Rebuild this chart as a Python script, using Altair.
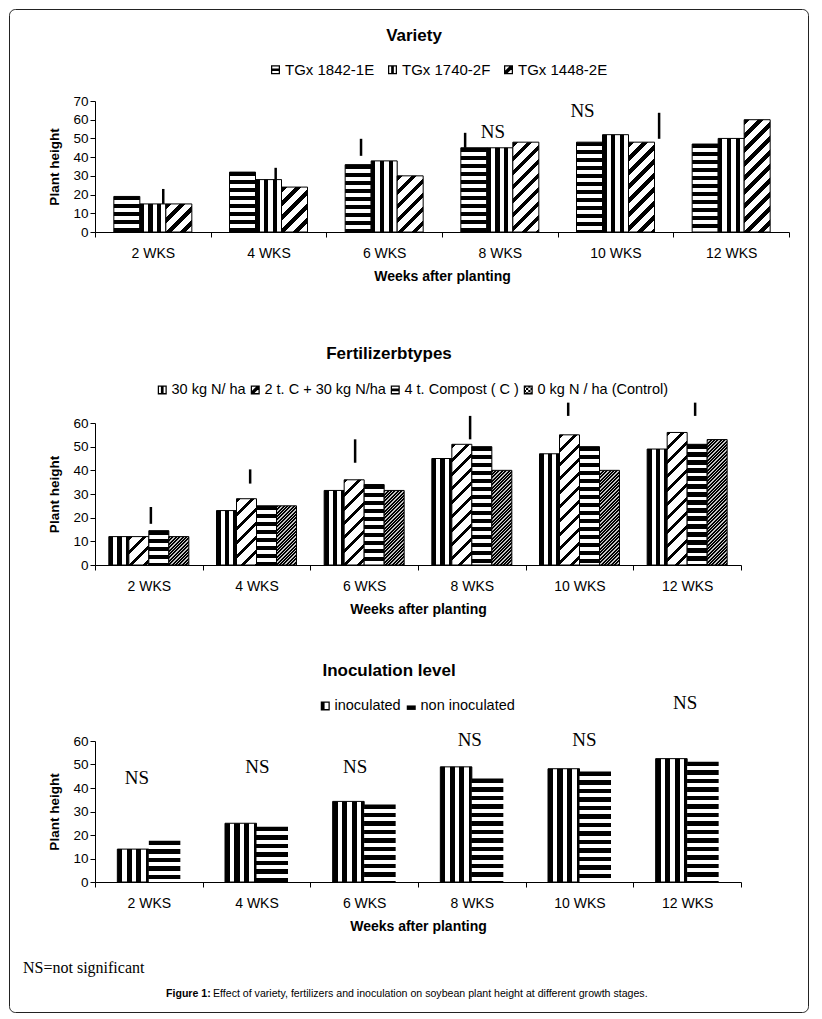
import altair as alt
import pandas as pd

# ---------------- data ----------------
weeks = ["2 WKS", "4 WKS", "6 WKS", "8 WKS", "10 WKS", "12 WKS"]

# Panel 1: Variety
variety = ["TGx 1842-1E", "TGx 1740-2F", "TGx 1448-2E"]
v_1842 = [19, 32, 36, 45, 48, 47]
v_1740 = [15, 28, 38, 45, 52, 50]
v_1448 = [15, 24, 30, 48, 48, 60]
var_lsd_week = ["2 WKS", "4 WKS", "6 WKS", "8 WKS", "10 WKS"]
var_lsd_low = [15, 28, 40.7, 45, 49.8]
var_lsd_high = [23, 34.3, 49.8, 53, 63.7]
var_lsd_shift = [0.09, 0.062, -0.2, -0.3, 0.377]   # fraction of a category step
var_ns_week = ["8 WKS", "10 WKS"]
var_ns_y = [53.7, 64.8]
var_ns_shift = [-0.06, -0.285]

# Panel 2: Fertilizer types
fert = ["30 kg N/ ha", "2 t. C + 30 kg N/ha", "4 t. Compost ( C )", "0 kg N / ha (Control)"]
f_30n = [12, 23, 31.5, 45, 47, 49]
f_2c30n = [12, 28, 36, 51, 55, 56]
f_4c = [14.5, 25, 34, 50, 50, 51]
f_ctrl = [12, 25, 31.5, 40, 40, 53]
fert_lsd_week = weeks
fert_lsd_low = [17.4, 34.4, 43.2, 53.1, 63, 63]
fert_lsd_high = [24.5, 40.4, 53.1, 63, 68.6, 68.6]
fert_lsd_shift = [0.019, -0.059, -0.084, -0.016, -0.105, 0.074]

# Panel 3: Inoculation level
inoc = ["inoculated", "non inoculated"]
i_in = [14, 25, 34.3, 49, 48.2, 52.5]
i_non = [17.6, 23.5, 33, 44, 47, 51.2]
ino_ns_week = weeks
ino_ns_y = [44.2, 48.9, 48.9, 60.3, 60.3, 76.2]
ino_ns_shift = [-0.111, 0.009, -0.083, -0.019, 0.046, -0.019]

FONT = "Liberation Sans"
SERIF = "Liberation Serif"


def long_df(series, columns):
    rows = []
    for name, vals in zip(series, columns):
        for w, v in zip(weeks, vals):
            rows.append({"cat": w, "s": name, "v": v})
    return pd.DataFrame(rows)


def stripe_expr(p, bar_w, pxu):
    a, b, period, dark = p["a"], p["b"], p["period"], p["dark"]
    cd, cl, L = p.get("cd", "black"), p.get("cl", "white"), p.get("L", 220)
    stops = []
    k = 0
    while k * period < L:
        o0 = k * period / L
        o1 = min(1.0, (k * period + dark) / L)
        o2 = min(1.0, (k + 1) * period / L)
        stops += [(o0, cd), (o1, cd), (o1, cl), (o2, cl)]
        k += 1
    st = ",".join("{offset:%.5f,color:'%s'}" % (o, c) for o, c in stops)
    pa = a * bar_w / L
    q = f"({b}*datum.v*{pxu:.6f}/{L})"
    den = f"({pa:.6f}*{pa:.6f}+{q}*{q})"
    x2 = f"{pa:.6f}/{den}"
    y2 = f"{q}/{den}"
    return "{gradient:'linear',x1:0,y1:0,x2:" + x2 + ",y2:" + y2 + ",stops:[" + st + "]}"


def text_layer(txt, x, y, **kw):
    return alt.Chart(pd.DataFrame({"t": [txt]})).mark_text(**kw).encode(
        x=alt.value(x), y=alt.value(y), text="t:N")


FR = "M-1,-1H1V-0.72H-1Z M-1,0.72H1V1H-1Z M-1,-1H-0.72V1H-1Z M0.72,-1H1V1H0.72Z "
SYM_H = FR + "M-1,-0.3H1V0.3H-1Z"
SYM_V = FR + "M-0.3,-1H0.3V1H-0.3Z"
SYM_D = FR + "M-1,0.45L0.45,-1H1V-0.45L-0.45,1H-1Z"
SYM_DOT = " ".join(
    f"M{-1 + 0.5 * i},{-1 + 0.5 * j}h0.5v0.5h-0.5Z"
    for i in range(4) for j in range(4) if (i + j) % 2 == 0) + " " + FR
SYM_INO = FR + "M-1,-1H-0.15V1H-1Z"
SYM_NON = "M-1,-0.1H1V0.9H-1Z"


def panel(series, cols, ymax, plot_h, top_extra, width, bar_w, patterns, shapes,
          legend_kw, title, title_xy, lsd=None, ns=None, extra=()):
    df = long_df(series, cols)
    step = width / 6
    po = (step / bar_w - len(series)) / 2
    height = plot_h + top_extra
    pxu = plot_h / ymax
    if top_extra:
        yscale = alt.Scale(domain=[0, ymax], nice=False, range=[height, top_extra])
    else:
        yscale = alt.Scale(domain=[0, ymax], nice=False)
    xscale = alt.Scale(domain=weeks, paddingInner=0, paddingOuter=0)
    x_axis = alt.Axis(
        title="Weeks after planting", labelAngle=0, tickBand="extent", tickSize=5,
        labelPadding=9, titlePadding=9, labelFontSize=14, titleFontSize=14,
        titleFontWeight="bold")
    y_axis = alt.Axis(
        title="Plant height", values=list(range(0, ymax + 1, 10)),
        tickCount=ymax // 10 + 1, tickSize=5,
        labelPadding=2, labelFontSize=13.5, titleFontSize=13.5, titleFontWeight="bold",
        titlePadding=11, labelOverlap=False)
    X = alt.X("cat:N", sort=weeks, scale=xscale, axis=x_axis)
    XO = alt.XOffset("s:N", sort=series,
                     scale=alt.Scale(domain=series, paddingInner=0, paddingOuter=po))
    Y = alt.Y("v:Q", scale=yscale, axis=y_axis)

    layers = []
    for name in series:
        for p in patterns[name]:
            layers.append(
                alt.Chart(df).transform_filter(alt.datum.s == name)
                .transform_calculate(grad=stripe_expr(p, bar_w, pxu))
                .mark_bar(stroke="black", strokeWidth=p.get("sw", 1))
                .encode(x=X, xOffset=XO, y=Y, fill=alt.Fill("grad:N", scale=None)))

    # invisible points that carry the pattern legend
    layers.append(
        alt.Chart(df).mark_point(filled=True, color="black", opacity=0).encode(
            x=X, y=Y,
            shape=alt.Shape("s:N", sort=series,
                            scale=alt.Scale(domain=series, range=shapes),
                            legend=alt.Legend(title=None, orient="none",
                                              direction="horizontal",
                                              labelFont=FONT, labelColor="black",
                                              symbolSize=81, symbolStrokeWidth=0,
                                              symbolFillColor="black",
                                              labelOffset=2, **legend_kw))))

    if lsd is not None:
        wk, lo, hi, sh = lsd
        ldf = pd.DataFrame({"cat": wk, "lo": lo, "hi": hi, "sh": sh})
        layers.append(
            alt.Chart(ldf).transform_calculate(px=f"datum.sh*{step:.4f}")
            .mark_rule(color="black", strokeWidth=2.5, strokeCap="butt",
                       xOffset=alt.ExprRef(expr="datum.px"))
            .encode(x=X, y=alt.Y("lo:Q", scale=yscale, axis=y_axis), y2="hi:Q"))
    if ns is not None:
        wk, yy, sh = ns
        ndf = pd.DataFrame({"cat": wk, "y": yy, "sh": sh})
        layers.append(
            alt.Chart(ndf).transform_calculate(px=f"datum.sh*{step:.4f}")
            .mark_text(font=SERIF, fontSize=19, color="black", baseline="middle",
                       xOffset=alt.ExprRef(expr="datum.px"))
            .encode(x=X, y=alt.Y("y:Q", scale=yscale, axis=y_axis),
                    text=alt.value("NS")))

    layers.append(text_layer(title, title_xy[0], title_xy[1], font=FONT, fontSize=17,
                             fontWeight="bold", color="black", baseline="middle",
                             align="center"))
    layers.extend(extra)
    return alt.layer(*layers).properties(width=width, height=height)


P1 = {
    "TGx 1842-1E": [dict(a=0, b=1, period=8, dark=4)],
    "TGx 1740-2F": [dict(a=1, b=0, period=26 / 3, dark=4.3)],
    "TGx 1448-2E": [dict(a=1, b=1, period=14, dark=5.5)],
}
P2 = {
    "30 kg N/ ha": [dict(a=1, b=0, period=8.5, dark=4.5)],
    "2 t. C + 30 kg N/ha": [dict(a=1, b=1, period=14, dark=4)],
    "4 t. Compost ( C )": [dict(a=0, b=1, period=8, dark=4.5)],
    "0 kg N / ha (Control)": [dict(a=1, b=1, period=3.4, dark=2, cl="#c4c4c4")],
}
P3 = {
    "inoculated": [dict(a=1, b=0, period=9.5, dark=5)],
    "non inoculated": [dict(a=0, b=1, period=8.5, dark=4.5, sw=0)],
}

frame = alt.Chart(pd.DataFrame({"k": [0]})).mark_rect(
    fillOpacity=0, stroke="#222222", strokeWidth=1, cornerRadius=6).encode(
    x=alt.value(-85.5), x2=alt.value(713.5), y=alt.value(-91.5), y2=alt.value(911.5))

p1 = panel(variety, [v_1842, v_1740, v_1448], 70, 131, 0, 694, 26, P1,
           [SYM_H, SYM_V, SYM_D],
           dict(legendX=173, legendY=-39, labelFontSize=15, columnPadding=10),
           "Variety", (319, -65),
           lsd=(var_lsd_week, var_lsd_low, var_lsd_high, var_lsd_shift),
           ns=(var_ns_week, var_ns_y, var_ns_shift), extra=[frame])

p2 = panel(fert, [f_30n, f_2c30n, f_4c, f_ctrl], 60, 142, 15, 646, 20, P2,
           [SYM_V, SYM_D, SYM_H, SYM_DOT],
           dict(legendX=60, legendY=-25.5, labelFontSize=14.5, columnPadding=2),
           "Fertilizerbtypes", (294, -54),
           lsd=(fert_lsd_week, fert_lsd_low, fert_lsd_high, fert_lsd_shift))

footer = [
    text_layer("NS=not significant", -72, 227, font=SERIF, fontSize=16, color="black",
               align="left", baseline="middle"),
    text_layer("Figure 1:", 71, 253, font=FONT, fontSize=10.6, fontWeight="bold",
               color="black", align="left", baseline="middle"),
    text_layer("Effect of variety, fertilizers and inoculation on soybean plant height "
               "at different growth stages.", 118, 253, font=FONT, fontSize=10.6,
               color="black", align="left", baseline="middle"),
]

p3 = panel(inoc, [i_in, i_non], 60, 141, 0, 646, 31.5, P3,
           [SYM_INO, SYM_NON],
           dict(legendX=223, legendY=-42.5, labelFontSize=14.5, columnPadding=3),
           "Inoculation level", (294, -70),
           ns=(ino_ns_week, ino_ns_y, ino_ns_shift), extra=footer)

chart = alt.vconcat(p1, p2, p3, spacing=176, bounds="flush").properties(
    padding=0, background="white"
).resolve_scale(
    shape="independent", x="independent", y="independent", xOffset="independent"
).resolve_legend(shape="independent").configure_view(
    stroke="transparent"
).configure_axis(
    domainColor="black", tickColor="black", labelColor="black", titleColor="black",
    labelFont=FONT, titleFont=FONT, grid=False, domainWidth=1, tickWidth=1
)

chart.save("out.html", embed_options={"renderer": "svg", "actions": False})
